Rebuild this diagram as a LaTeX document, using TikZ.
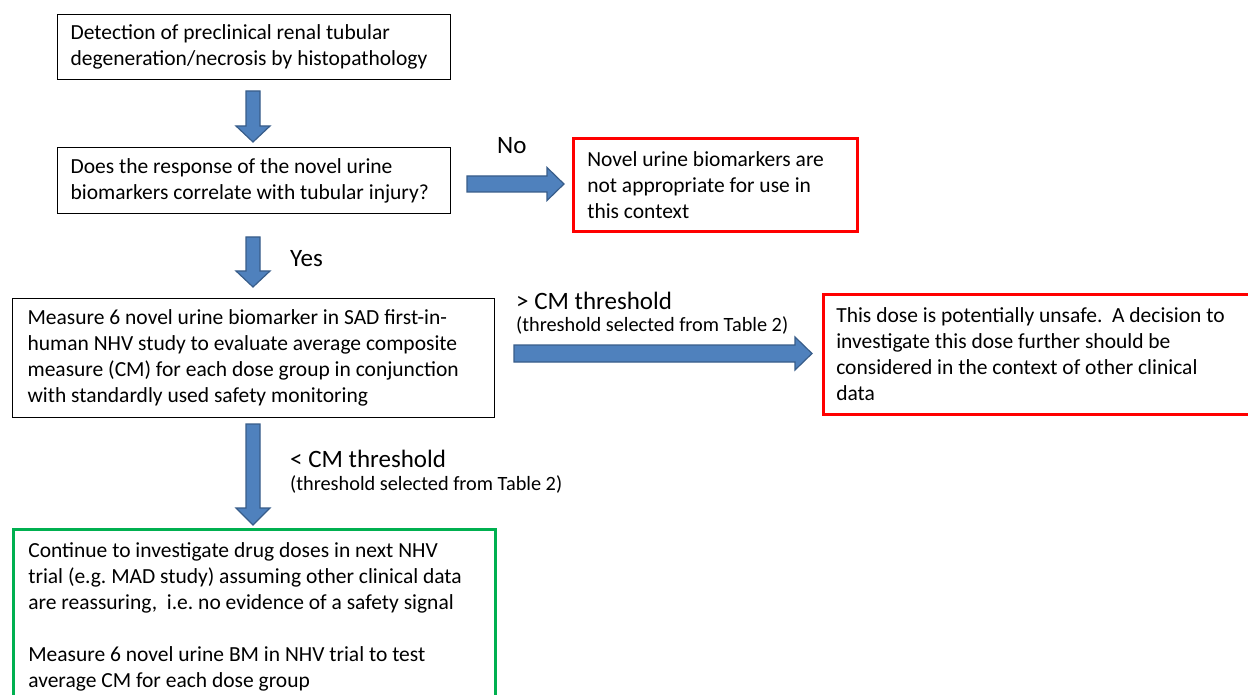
\documentclass[tikz,border=0pt]{standalone}
\usepackage{fontspec}
\setmainfont{Carlito}
\frenchspacing
\definecolor{abfill}{RGB}{79,129,189}
\definecolor{abline}{RGB}{56,93,138}
\definecolor{redc}{RGB}{255,0,0}
\definecolor{greenc}{RGB}{0,176,80}
\tikzset{
  boxtext/.style={font=\fontsize{21.5}{26}\selectfont, align=flush left, anchor=north west, inner ysep=0pt},
  plainbox/.style={boxtext, draw=black, line width=1.2pt},
  redbox/.style={boxtext, draw=redc, line width=2.6pt},
  greenbox/.style={boxtext, draw=greenc, line width=2.6pt},
  blockarrow/.style={fill=abfill, draw=abline, line width=1.2pt, line join=miter},
  biglbl/.style={font=\fontsize{25}{28}\selectfont, anchor=base west, inner sep=0pt},
  smalllbl/.style={font=\fontsize{20.3}{23}\selectfont, anchor=base west, inner sep=0pt}
}
\newcommand\downblock[4]{%
  \draw[blockarrow] (#1-7,#2) -- (#1+7,#2) -- (#1+7,#3) -- (#1+17,#3) -- (#1,#4) -- (#1-17,#3) -- (#1-7,#3) -- cycle;}
\newcommand\rightblock[6]{% xstart, ycenter, xhead, xtip, halfshaft, halfhead
  \draw[blockarrow] (#1,#2-#5) -- (#3,#2-#5) -- (#3,#2-#6) -- (#4,#2) -- (#3,#2+#6) -- (#3,#2+#5) -- (#1,#2+#5) -- cycle;}
\begin{document}
\begin{tikzpicture}[x=1pt,y=-1pt]
\useasboundingbox[fill=white] (0,0) rectangle (1248,695);

\node[plainbox, minimum width=393pt, minimum height=65pt, inner xsep=13pt, text width=367pt] (b1) at (57,14)
  {Detection of preclinical renal tubular\\degeneration/necrosis by histopathology};
\node[plainbox, minimum width=393pt, minimum height=66pt, inner xsep=13pt, text width=367pt] (b2) at (57,147)
  {Does the response of the novel urine\\biomarkers correlate with tubular injury?};
\node[plainbox, minimum width=482pt, minimum height=119pt, inner xsep=15pt, text width=452pt] (b3) at (12,298)
  {Measure 6 novel urine biomarker in SAD first-in-\\human NHV study to evaluate average composite\\measure (CM) for each dose group in conjunction\\with standardly used safety monitoring};
\node[redbox, minimum width=284pt, minimum height=93pt, inner xsep=14pt, text width=256pt] (r1) at (572,137)
  {Novel urine biomarkers are\\not appropriate for use in\\this context};
\node[redbox, minimum width=440pt, minimum height=120pt, inner xsep=13pt, text width=414pt] (r2) at (822,293)
  {This dose is potentially unsafe.\ \ A decision to\\investigate this dose further should be\\considered in the context of other clinical\\data};
\node[greenbox, minimum width=482pt, minimum height=176pt, inner xsep=15pt, text width=452pt] (g1) at (12,528)
  {Continue to investigate drug doses in next NHV\\trial (e.g. MAD study) assuming other clinical data\\are reassuring,\ \ i.e. no evidence of a safety signal\\[26pt]Measure 6 novel urine BM in NHV trial to test\\average CM for each dose group};

\downblock{253}{91}{126}{142}
\downblock{253}{237}{271}{287}
\downblock{253}{424}{508}{525}
\rightblock{467}{184}{547}{564}{8}{16.5}
\rightblock{514}{353.5}{795}{812}{8.5}{16.5}

\node[biglbl] (lno) at (497,154) {No};
\node[biglbl] (lyes) at (290,267) {Yes};
\node[biglbl] (lgt) at (516,309) {> CM threshold};
\node[smalllbl] (lgts) at (516,331) {(threshold selected from Table 2)};
\node[biglbl] (llt) at (290,467) {< CM threshold};
\node[smalllbl] (llts) at (290,490) {(threshold selected from Table 2)};
\end{tikzpicture}
\end{document}
